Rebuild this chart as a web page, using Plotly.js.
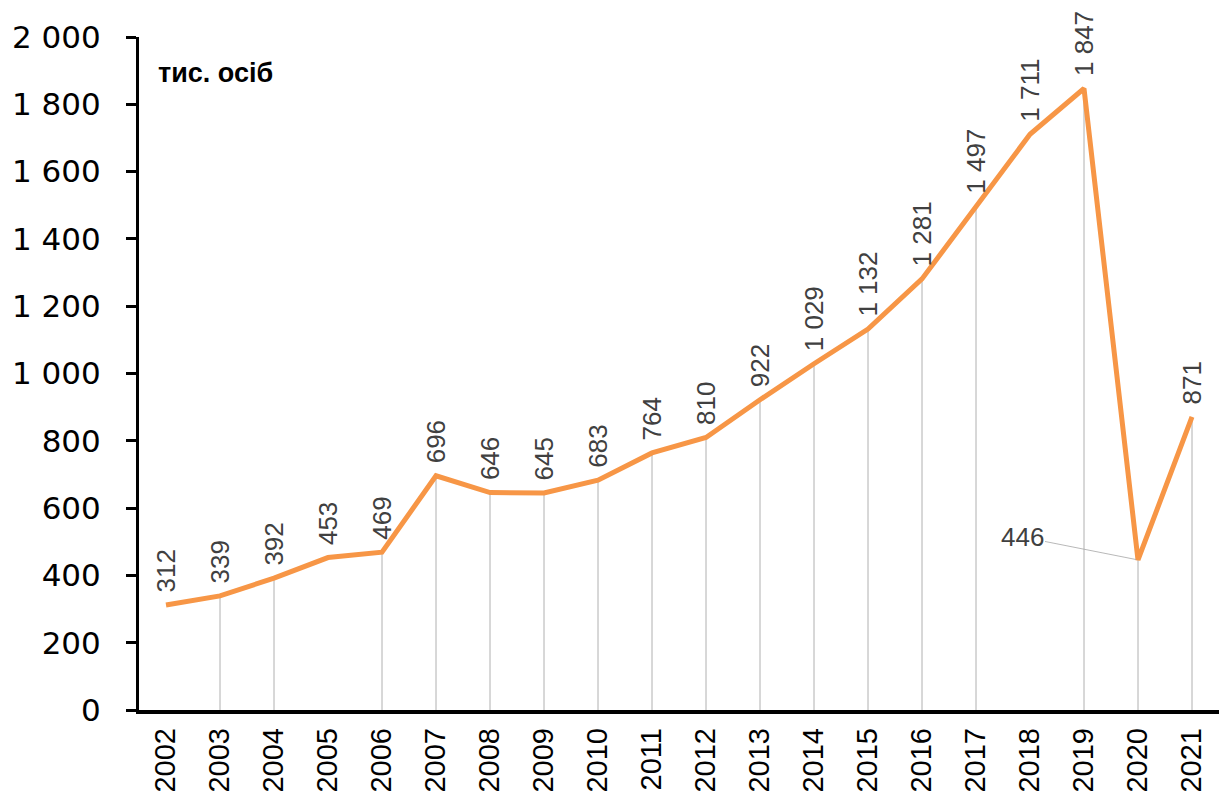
<!DOCTYPE html>
<html>
<head>
<meta charset="utf-8">
<script src="https://cdn.plot.ly/plotly-3.0.1.min.js"></script>
<style>html,body{margin:0;padding:0;background:#fff}#chart{width:1222px;height:801px}</style>
</head>
<body>
<div id="chart"></div>
<script>
const years = ['2002','2003','2004','2005','2006','2007','2008','2009','2010','2011','2012','2013','2014','2015','2016','2017','2018','2019','2020','2021'];
const values = [312,339,392,453,469,696,646,645,683,764,810,922,1029,1132,1281,1497,1711,1847,446,871];
const dropLineYears = ['2003','2004','2006','2007','2008','2009','2010','2011','2012','2013','2014','2015','2016','2017','2019','2020','2021'];
const unitLabel = 'тис. осіб';
const yTickVals = [0,200,400,600,800,1000,1200,1400,1600,1800,2000];

function fmt(v){ return String(v).replace(/\B(?=(\d{3})+(?!\d))/g, ' '); }

const dx = [], dy = [];
years.forEach((yr, i) => {
  if (dropLineYears.includes(yr)) { dx.push(yr, yr, null); dy.push(0, values[i], null); }
});

const traces = [
  {x: years, y: values, type: 'scatter', mode: 'none', hoverinfo: 'skip', showlegend: false},
  {x: dx, y: dy, type: 'scatter', mode: 'lines', line: {color: '#B0B0B0', width: 1}, hoverinfo: 'skip', showlegend: false},
  {x: years, y: values, type: 'scatter', mode: 'lines', line: {color: '#F79646', width: 5}, showlegend: false}
];

const labelFont = {family: 'Liberation Sans, Arial, sans-serif', size: 26, color: '#404040'};
const annotations = years.map((yr, i) => {
  if (yr === '2020') {
    return {x: i, y: values[i], xref: 'x', yref: 'y', text: fmt(values[i]), showarrow: true,
      arrowhead: 0, arrowwidth: 0.8, arrowcolor: '#A6A6A6', ax: -116, ay: -23, standoff: 2,
      font: labelFont};
  }
  return {x: i, y: values[i], xref: 'x', yref: 'y', text: fmt(values[i]), showarrow: false,
    textangle: -90, xanchor: 'center', yanchor: 'bottom', yshift: 10, font: labelFont};
});
annotations.push({xref: 'paper', yref: 'paper', x: 0.016, y: 0.947, xanchor: 'left', yanchor: 'middle',
  text: '<b>' + unitLabel + '</b>', showarrow: false,
  font: {family: 'Liberation Sans, Arial, sans-serif', size: 27, color: '#000'}});

const layout = {
  width: 1222, height: 801,
  margin: {l: 139, r: 3, t: 37, b: 91},
  paper_bgcolor: '#fff', plot_bgcolor: '#fff',
  showlegend: false,
  xaxis: {type: 'category', categoryorder: 'array', categoryarray: years, range: [-0.5, 19.5],
    showline: true, linecolor: '#000', linewidth: 3.5,
    ticks: '', showgrid: false, zeroline: false, tickangle: -90, ticklabelstandoff: 3,
    tickfont: {family: 'Liberation Sans, Arial, sans-serif', size: 29, color: '#000'}},
  yaxis: {range: [0, 2000], tickvals: yTickVals, ticktext: yTickVals.map(fmt), showline: true,
    linecolor: '#000', linewidth: 3, ticks: 'outside', ticklen: 10, tickwidth: 3, tickcolor: '#000',
    showgrid: false, zeroline: false, ticklabelstandoff: 19,
    tickfont: {family: 'DejaVu Sans, sans-serif', size: 31, color: '#000'}},
  annotations: annotations
};

Plotly.newPlot('chart', traces, layout, {displayModeBar: false, staticPlot: true});
</script>
</body>
</html>
